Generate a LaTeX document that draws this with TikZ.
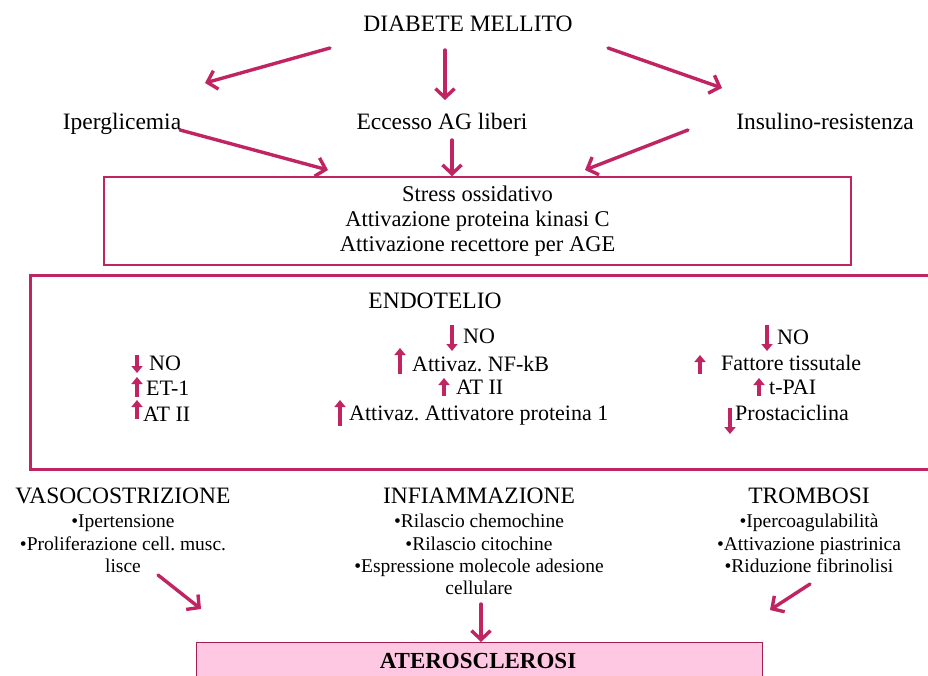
\documentclass[tikz,border=0pt]{standalone}
\usepackage{fontspec}
\setmainfont{Liberation Serif}
\usetikzlibrary{arrows.meta}
\definecolor{mag}{RGB}{192,36,98}
\definecolor{pinkfill}{RGB}{255,200,226}
\frenchspacing
\begin{document}
\begin{tikzpicture}[x=1pt,y=-1pt,
  lbl/.style={inner sep=0pt, font=\fontsize{23.5}{27}\selectfont},
  etxt/.style={inner sep=0pt, anchor=base west, font=\fontsize{22}{25}\selectfont},
  btxt/.style={inner sep=0pt, anchor=base, font=\fontsize{19.5}{22}\selectfont},
  conn/.style={draw=mag, line width=3.4pt, line cap=round, -{Straight Barb[length=9pt,width=19pt]}},
  blk/.style={draw=mag, line width=4pt, -{Triangle[length=7pt,width=11pt]}},
  frame/.style={draw=mag}
]
\useasboundingbox (0,0) rectangle (928,676);
\clip (0,0) rectangle (928,676);

% top level
\node[lbl, anchor=base] (dm) at (468,32) {DIABETE MELLITO};
\node[lbl, anchor=base] (ip) at (122,130) {Iperglicemia};
\node[lbl, anchor=base] (ag) at (442,130) {Eccesso AG liberi};
\node[lbl, anchor=base] (ir) at (825,130) {Insulino-resistenza};

% box of mechanisms
\node[frame, line width=1.5pt, minimum width=747pt, minimum height=88pt, align=center,
      font=\fontsize{22.5}{25}\selectfont] (ox) at (477.5,221)
  {Stress ossidativo\\Attivazione proteina kinasi C\\Attivazione recettore per AGE};

% connectors top
\coordinate (a1s) at (330,48);  \coordinate (a1e) at (205,83);
\coordinate (a2s) at (445,50);  \coordinate (a2e) at (445,100);
\coordinate (a3s) at (608,48);  \coordinate (a3e) at (722,88);
\coordinate (b1s) at (180,130); \coordinate (b1e) at (328,170);
\coordinate (b2s) at (452,140);
\coordinate (b3s) at (688,130); \coordinate (b3e) at (585,170);
\draw[conn] (a1s) -- (a1e);
\draw[conn] (a2s) -- (a2e);
\draw[conn] (a3s) -- (a3e);
\draw[conn] (b1s) -- (b1e);
\draw[conn] (b2s) -- (b2s |- ox.north);
\draw[conn] (b3s) -- (b3e);

% endothelium box
\node[frame, line width=3pt, anchor=north west, minimum width=930pt, minimum height=194pt] (endo) at (29,274) {};
\node[lbl, anchor=base] (endt) at (435,308) {ENDOTELIO};

% left column
\node[etxt] (l1) at (149,370) {NO};
\node[etxt] (l2) at (146,395) {ET-1};
\node[etxt] (l3) at (143,421) {AT II};
\draw[blk] (137,355) -- (137,373);
\draw[blk] (137,397) -- (137,377);
\draw[blk] (137,419) -- (137,400);

% middle column
\node[etxt] (m1) at (463,343) {NO};
\node[etxt] (m2) at (412,371) {Attivaz. NF-kB};
\node[etxt] (m3) at (456,394) {AT II};
\node[etxt] (m4) at (349,420) {Attivaz. Attivatore proteina 1};
\draw[blk] (452,325) -- (452,351);
\draw[blk] (400,374) -- (400,348);
\draw[blk] (444,396) -- (444,378);
\draw[blk] (340,426) -- (340,400);

% right column
\node[etxt] (r1) at (777,344) {NO};
\node[etxt] (r2) at (721,370) {Fattore tissutale};
\node[etxt] (r3) at (769,394) {t-PAI};
\node[etxt] (r4) at (735,420) {Prostaciclina};
\draw[blk] (767,325) -- (767,351);
\draw[blk] (700,374) -- (700,355);
\draw[blk] (759,396) -- (759,378);
\draw[blk] (730,408) -- (730,434);

% bottom headings
\node[lbl, anchor=base] (vaso) at (123,503) {VASOCOSTRIZIONE};
\node[lbl, anchor=base] (infl) at (479,503) {INFIAMMAZIONE};
\node[lbl, anchor=base] (trom) at (809,503) {TROMBOSI};

\node[btxt] (v1) at (123,527) {•Ipertensione};
\node[btxt] (v2) at (123,550) {•Proliferazione cell. musc.};
\node[btxt] (v3) at (123,572) {lisce};

\node[btxt] (i1) at (479,527) {•Rilascio chemochine};
\node[btxt] (i2) at (479,550) {•Rilascio citochine};
\node[btxt] (i3) at (479,572) {•Espressione molecole adesione};
\node[btxt] (i4) at (479,594) {cellulare};

\node[btxt] (t1) at (809,527) {•Ipercoagulabilità};
\node[btxt] (t2) at (809,550) {•Attivazione piastrinica};
\node[btxt] (t3) at (809,572) {•Riduzione fibrinolisi};

% final box
\node[draw=mag!85!black, line width=1pt, fill=pinkfill, anchor=north west,
      minimum width=566pt, minimum height=60pt] (ath) at (196,642) {};
\node[inner sep=0pt, anchor=base, font=\fontsize{23}{26}\selectfont\bfseries] (atht) at (478,668) {ATEROSCLEROSI};

% bottom connectors
\coordinate (c1s) at (158,575); \coordinate (c1e) at (201,609);
\coordinate (c2s) at (481,604);
\coordinate (c3s) at (810,584); \coordinate (c3e) at (770,610);
\draw[conn] (c1s) -- (c1e);
\draw[conn] (c2s) -- (c2s |- ath.north);
\draw[conn] (c3s) -- (c3e);
\end{tikzpicture}
\end{document}
